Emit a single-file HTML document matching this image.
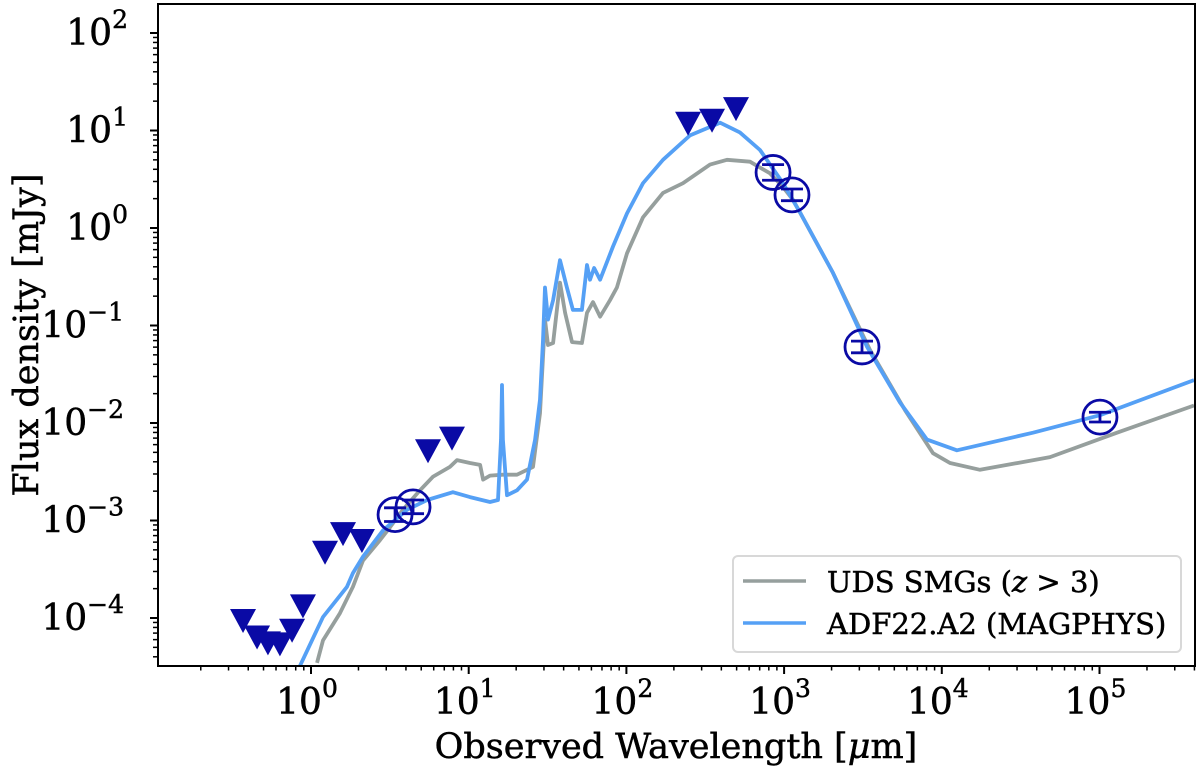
<!DOCTYPE html>
<html><head><meta charset="utf-8"><style>
html,body{margin:0;padding:0;background:#fff;}
svg{display:block;font-family:"DejaVu Serif","Liberation Serif",serif;}
.t{stroke:#000;stroke-width:0.5px;}
</style></head><body>
<svg id="chart" width="1200" height="774" viewBox="0 0 1200 774" xmlns="http://www.w3.org/2000/svg">
<defs><clipPath id="clip"><rect x="158" y="4" width="1037" height="662"/></clipPath></defs>
<g id="ticks"></g>
<g id="plot" clip-path="url(#clip)"></g>
<rect x="158" y="4" width="1037" height="662" fill="none" stroke="#000" stroke-width="2"/>
<text class="t" x="676" y="758" font-size="35" text-anchor="middle">Observed Wavelength [<tspan font-style="italic">μ</tspan>m]</text>
<text class="t" transform="translate(38,335) rotate(-90)" font-size="35" text-anchor="middle">Flux density [mJy]</text>
<g>
<rect x="733" y="556" width="448" height="96" rx="5" fill="#fff" fill-opacity="0.85" stroke="#d8d8d8" stroke-width="2"/>
<line x1="743" y1="581" x2="806" y2="581" stroke="#969f9d" stroke-width="3.5"/>
<text class="t" x="827" y="592" font-size="29">UDS SMGs (<tspan font-style="italic">z</tspan> &gt; 3)</text>
<line x1="743" y1="623" x2="806" y2="623" stroke="#55a0f5" stroke-width="3.5"/>
<text class="t" x="827" y="634" font-size="29">ADF22.A2 (MAGPHYS)</text>
</g>
</svg>
<script>
// data in log10 units: wavelength [um], flux [mJy]
const grayLogLam=[0.038,0.076,0.184,0.266,0.330,0.438,0.501,0.583,0.691,0.774,0.881,0.926,1.008,1.072,1.091,1.135,1.217,1.306,1.408,1.452,1.484,1.503,1.535,1.579,1.611,1.655,1.718,1.750,1.788,1.833,1.896,1.940,2.004,2.105,2.232,2.359,2.530,2.638,2.784,2.911,2.993,3.056,3.101,3.310,3.545,3.767,3.944,4.052,4.242,4.686,5.111,5.599];
const grayLogF=[-4.46,-4.23,-3.95,-3.68,-3.41,-3.20,-3.07,-2.89,-2.69,-2.55,-2.45,-2.38,-2.41,-2.43,-2.58,-2.54,-2.53,-2.53,-2.45,-1.90,-0.94,-1.20,-1.18,-0.56,-0.87,-1.17,-1.18,-0.87,-0.76,-0.91,-0.74,-0.61,-0.26,0.11,0.36,0.46,0.65,0.70,0.68,0.56,0.42,0.29,0.16,-0.46,-1.25,-1.87,-2.31,-2.41,-2.48,-2.35,-2.10,-1.82];
const blueLogLam=[-0.070,0.076,0.228,0.266,0.330,0.457,0.609,0.736,0.900,1.008,1.135,1.186,1.205,1.211,1.217,1.243,1.306,1.370,1.421,1.452,1.471,1.484,1.503,1.535,1.579,1.623,1.661,1.718,1.750,1.769,1.795,1.833,1.915,2.004,2.105,2.232,2.403,2.594,2.720,2.847,2.993,3.101,3.310,3.526,3.735,3.906,4.096,4.578,5.003,5.599];
const blueLogF=[-4.49,-3.99,-3.68,-3.54,-3.37,-3.10,-2.89,-2.79,-2.71,-2.76,-2.81,-2.79,-2.17,-1.61,-2.17,-2.74,-2.69,-2.58,-2.17,-1.76,-1.15,-0.61,-0.94,-0.74,-0.33,-0.61,-0.84,-0.84,-0.38,-0.53,-0.41,-0.53,-0.19,0.15,0.46,0.70,0.95,1.08,0.98,0.80,0.46,0.16,-0.46,-1.22,-1.79,-2.17,-2.28,-2.10,-1.92,-1.56];
const limLogLam=[-0.431,-0.342,-0.273,-0.197,-0.120,-0.051,0.089,0.203,0.323,0.742,0.894,2.391,2.543,2.695];
const limLogF=[-4.02,-4.19,-4.25,-4.26,-4.12,-3.87,-3.32,-3.13,-3.20,-2.28,-2.15,1.08,1.11,1.23];
const detLogLam=[0.533,0.647,2.930,3.050,3.494,5.003];
const detLogF=[-2.94,-2.86,0.57,0.34,-1.22,-1.94];
const detErr=[0.07,0.07,0.08,0.06,0.06,0.05];
const xTickExp=[0,1,2,3,4,5];
const yTickExp=[2,1,0,-1,-2,-3,-4];

const NS='http://www.w3.org/2000/svg';
const X=l=>311+157.7*l;
const Y=f=>33+97.5*(2-f);
function mk(tag,attrs,parent){const e=document.createElementNS(NS,tag);for(const k in attrs)e.setAttribute(k,attrs[k]);parent.appendChild(e);return e;}
const plot=document.getElementById('plot'), ticks=document.getElementById('ticks');

function line(lx,ly,color,name){
  const d=lx.map((v,i)=>(i?'L':'M')+X(v).toFixed(1)+' '+Y(ly[i]).toFixed(1)).join(' ');
  const p=mk('path',{d:d,fill:'none',stroke:color,'stroke-width':3.8,'stroke-linejoin':'round'},plot);
  
  
}
line(grayLogLam,grayLogF,'#969f9d','uds-smgs-line');
line(blueLogLam,blueLogF,'#55a0f5','adf22-magphys-line');

limLogLam.forEach((l,i)=>{
  const x=X(l),y=Y(limLogF[i]);
  const t=mk('polygon',{points:`${x-13},${y-11} ${x+13},${y-11} ${x},${y+13}`,fill:'#0a0aa5'},plot);
  
  
});
detLogLam.forEach((l,i)=>{
  const x=X(l),y=Y(detLogF[i]),y1=Y(detLogF[i]+detErr[i]),y2=Y(detLogF[i]-detErr[i]);
  const g=mk('g',{stroke:'#0a0aa5','stroke-width':2.8,fill:'none'},plot);
  
  
  mk('circle',{cx:x,cy:y,r:17},g);
  mk('line',{x1:x,y1:y1,x2:x,y2:y2},g);
  mk('line',{x1:x-11,y1:y1,x2:x+11,y2:y1},g);
  mk('line',{x1:x-11,y1:y2,x2:x+11,y2:y2},g);
});

// x ticks
for(let e=-1;e<=5;e++){
  for(let m=1;m<=9;m++){
    const x=X(e+Math.log10(m));
    if(x<158||x>1195)continue;
    const maj=m===1;
    mk('line',{x1:x,y1:666,x2:x,y2:666+(maj?8:4.5),stroke:'#000','stroke-width':maj?2:1.5},ticks);
  }
}
xTickExp.forEach(e=>{
  const t=mk('text',{x:X(e)-4,y:714,'font-size':36,'text-anchor':'middle','class':'t'},ticks);
  
  
  t.innerHTML='10<tspan dy="-17" font-size="25">'+e+'</tspan>';
});
// y ticks
for(let e=-5;e<=2;e++){
  for(let m=1;m<=9;m++){
    const y=Y(e+Math.log10(m));
    if(y<4||y>666)continue;
    const maj=m===1;
    mk('line',{x1:158,y1:y,x2:158-(maj?8:5),y2:y,stroke:'#000','stroke-width':maj?2:1.5},ticks);
  }
}
yTickExp.forEach(e=>{
  const t=mk('text',{x:e<0?124:128,y:Y(e)+12,'font-size':36,'text-anchor':'end','class':'t'},ticks);
  
  
  t.innerHTML='10<tspan dy="-17" font-size="25">'+(e<0?'−'+(-e):e)+'</tspan>';
});
</script>
</body></html>
